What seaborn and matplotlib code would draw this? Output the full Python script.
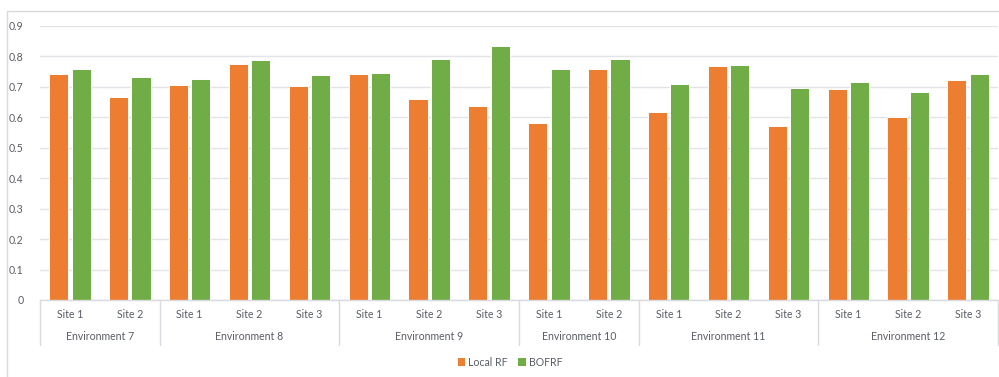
import matplotlib
matplotlib.use("Agg")
import matplotlib.pyplot as plt
import matplotlib.transforms as mtransforms
from matplotlib.patches import Rectangle, Patch
import pandas as pd
import seaborn as sns

# Environments and the sites evaluated in each
environments = ["Environment 7", "Environment 8", "Environment 9",
                "Environment 10", "Environment 11", "Environment 12"]
sites_per_env = [
    ["Site 1", "Site 2"],
    ["Site 1", "Site 2", "Site 3"],
    ["Site 1", "Site 2", "Site 3"],
    ["Site 1", "Site 2"],
    ["Site 1", "Site 2", "Site 3"],
    ["Site 1", "Site 2", "Site 3"],
]

models = ["Local RF", "BOFRF"]

# Scores per site, in the order above
local_rf = [0.742, 0.667,
            0.707, 0.774, 0.704,
            0.742, 0.659, 0.637,
            0.580, 0.758,
            0.618, 0.770, 0.573,
            0.692, 0.600, 0.724]
bofrf = [0.758, 0.733,
         0.727, 0.788, 0.740,
         0.745, 0.793, 0.833,
         0.759, 0.793,
         0.708, 0.772, 0.696,
         0.717, 0.684, 0.741]

ORANGE = "#ED7D31"
GREEN = "#70AD47"
TEXT = "#595d66"
GRID = "#e3e4ea"

# Long-form table
rows = []
keys = []
site_labels = []
idx = 0
for env, sites in zip(environments, sites_per_env):
    for s in sites:
        key = f"{env}|{s}"
        keys.append(key)
        site_labels.append(s)
        rows.append({"key": key, "model": models[0], "value": local_rf[idx]})
        rows.append({"key": key, "model": models[1], "value": bofrf[idx]})
        idx += 1
df = pd.DataFrame(rows)

sns.set_theme(style="white")
plt.rcParams["font.family"] = ["Lato", "DejaVu Sans"]

W, H = 999, 377
fig = plt.figure(figsize=(W / 100, H / 100), dpi=100)
ax = fig.add_axes([40 / W, (H - 300) / H, (998 - 40) / W, (300 - 26) / H])

sns.barplot(data=df, x="key", y="value", hue="model", order=keys,
            hue_order=models, palette=[ORANGE, GREEN], saturation=1,
            width=0.75, gap=0.15, edgecolor="white", linewidth=0.7,
            errorbar=None, legend=False, ax=ax)

ax.set_ylim(0, 0.9)
ax.set_xlim(-0.5, len(keys) - 0.5)
ax.set_yticks([i / 10 for i in range(10)])
ax.set_yticklabels(["0"] + [f"0.{i}" for i in range(1, 10)])
ax.tick_params(axis="y", length=0, pad=12, labelsize=7.6, labelcolor=TEXT)
ax.yaxis.grid(True, color=GRID, linewidth=1.0)
ax.set_axisbelow(True)
for side in ["left", "right", "top"]:
    ax.spines[side].set_visible(False)
ax.spines["bottom"].set_color("#d9dae0")
ax.spines["bottom"].set_linewidth(1.0)

ax.set_xticks([])
ax.set_xlabel("")
ax.set_ylabel("")

# Two-level category axis: sites, then environments with dividers
trans = mtransforms.blended_transform_factory(ax.transData, ax.transAxes)
ax_h = 300 - 26
for i, s in enumerate(site_labels):
    ax.text(i, -15 / ax_h, s, transform=trans, ha="center", va="center",
            fontsize=7.6, color=TEXT)

start = 0
bounds = [-0.5]
for env, sites in zip(environments, sites_per_env):
    n = len(sites)
    center = start + (n - 1) / 2
    ax.text(center, -37 / ax_h, env, transform=trans, ha="center",
            va="center", fontsize=7.6, color=TEXT)
    start += n
    bounds.append(start - 0.5)
for b in bounds:
    ax.plot([b, b], [0, -45 / ax_h], transform=trans, color="#d9dae0",
            linewidth=1.0, clip_on=False)

# Legend
handles = [Patch(facecolor=ORANGE, edgecolor="none"),
           Patch(facecolor=GREEN, edgecolor="none")]
fig.legend(handles, models, loc="center", bbox_to_anchor=(510 / W, 15 / H),
           ncol=2, frameon=False, handlelength=0.7, handleheight=0.7,
           handletextpad=0.3, columnspacing=1.0, fontsize=7.6,
           labelcolor=TEXT)

# Chart-area outline
fig.patches.append(Rectangle((7 / W, -0.1), 1.2, (H - 11) / H + 0.1,
                             transform=fig.transFigure, fill=False,
                             edgecolor="#d9dae0", linewidth=1.0))

fig.savefig("out.png", dpi=100)
